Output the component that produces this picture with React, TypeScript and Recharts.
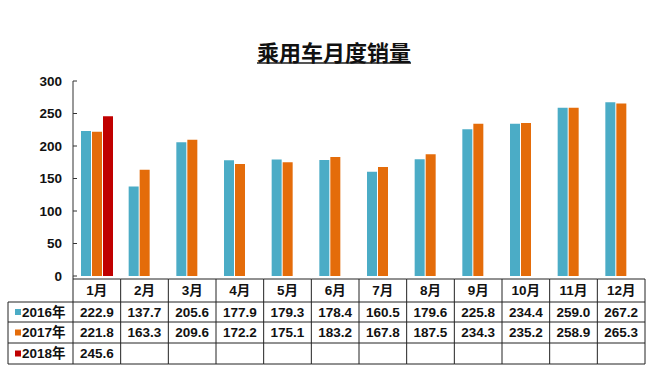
import React from "react";
import { BarChart, Bar, XAxis, YAxis } from "recharts";

const months = ["1月", "2月", "3月", "4月", "5月", "6月", "7月", "8月", "9月", "10月", "11月", "12月"];
const sales2016 = [222.9, 137.7, 205.6, 177.9, 179.3, 178.4, 160.5, 179.6, 225.8, 234.4, 259.0, 267.2];
const sales2017 = [221.8, 163.3, 209.6, 172.2, 175.1, 183.2, 167.8, 187.5, 234.3, 235.2, 258.9, 265.3];
const sales2018: (number | null)[] = [245.6, null, null, null, null, null, null, null, null, null, null, null];
const yTicks = [0, 50, 100, 150, 200, 250, 300];
const seriesNames = ["2016年", "2017年", "2018年"];
const seriesColors = ["#4BACC6", "#E46C0A", "#C00000"];

const data = months.map((m, i) => ({
    month: m,
    y2016: sales2016[i],
    y2017: sales2017[i],
    y2018: sales2018[i],
}));

const W = 660;
const H = 377;
const margin = { top: 81, right: 15, left: 13, bottom: 11 };
const Y_W = 60;
const PLOT_W = W - margin.left - margin.right - Y_W;
const BW = PLOT_W / months.length;
const TABLE_LEFT = 8;
const lineY = [3, 26, 46, 67, 88];
const rows = [sales2016, sales2017, sales2018];
const font = "'Liberation Sans', Arial, 'Noto Sans CJK SC', sans-serif";
const gridColor = "#222";

const TableTick = (props: any) => {
    const { x, y, payload } = props;
    const i = payload.index;
    const l = x - BW / 2;
    const r = x + BW / 2;
    const textProps = { fontFamily: font, fontWeight: 700, fontSize: 13.5, fill: "#111", textAnchor: "middle" as const };
    return (
        <g>
            {lineY.map((dy, k) => (
                <line key={"h" + k} x1={l} x2={r} y1={y + dy} y2={y + dy} stroke={gridColor} strokeWidth={1} />
            ))}
            <line x1={r} x2={r} y1={y + lineY[0]} y2={y + lineY[4]} stroke={gridColor} />
            {i === 0 && (
                <g>
                    <line x1={l} x2={l} y1={y} y2={y + lineY[4]} stroke={gridColor} />
                    <line x1={TABLE_LEFT} x2={TABLE_LEFT} y1={y + lineY[1]} y2={y + lineY[4]} stroke={gridColor} />
                    {lineY.slice(1).map((dy, k) => (
                        <line key={"lh" + k} x1={TABLE_LEFT} x2={l} y1={y + dy} y2={y + dy} stroke={gridColor} />
                    ))}
                    {seriesNames.map((name, k) => {
                        const cy = y + (lineY[k + 1] + lineY[k + 2]) / 2;
                        return (
                            <g key={name}>
                                <rect x={TABLE_LEFT + 7} y={cy - 3} width={6} height={6} fill={seriesColors[k]} />
                                <text x={TABLE_LEFT + 14} y={cy} dy="0.36em" {...textProps} textAnchor="start">
                                    {name}
                                </text>
                            </g>
                        );
                    })}
                </g>
            )}
            <text x={x} y={y + (lineY[0] + lineY[1]) / 2} dy="0.36em" {...textProps}>
                {payload.value}
            </text>
            {rows.map((row, k) => {
                const v = row[i];
                if (v === null || v === undefined) return null;
                return (
                    <text key={k} x={x} y={y + (lineY[k + 1] + lineY[k + 2]) / 2} dy="0.36em" {...textProps}>
                        {v.toFixed(1)}
                    </text>
                );
            })}
        </g>
    );
};

const YTick = (props: any) => {
    const { x, y, payload } = props;
    return (
        <g>
            <line x1={x} x2={x + 4} y1={y} y2={y} stroke="#333" />
            <text x={x - 11} y={y} dy="0.36em" textAnchor="end" fontFamily={font} fontWeight={700} fontSize={13.5} fill="#111">
                {payload.value}
            </text>
        </g>
    );
};

const App = () => {
    return (
        <div style={{ position: "absolute", left: 0, top: 0, width: W, height: H, background: "#fff" }}>
            <div
                style={{
                    position: "absolute",
                    left: 0,
                    top: 40,
                    width: W,
                    textAlign: "center",
                    fontFamily: "'Noto Sans CJK SC', sans-serif",
                    fontWeight: 700,
                    fontSize: 22,
                    lineHeight: "22px",
                    color: "#111",
                    textDecoration: "underline",
                    textDecorationColor: "#555",
                    textDecorationThickness: 2,
                    paddingLeft: 8,
                    boxSizing: "border-box",
                }}
            >
                乘用车月度销量
            </div>
            <BarChart width={W} height={H} data={data} margin={margin} barSize={10} barGap={1}>
                <XAxis
                    dataKey="month"
                    height={90}
                    axisLine={false}
                    tickLine={false}
                    tickSize={0}
                    tickMargin={0}
                    interval={0}
                    tick={<TableTick />}
                />
                <YAxis
                    width={Y_W}
                    domain={[0, 300]}
                    ticks={yTicks}
                    interval={0}
                    axisLine={{ stroke: "#333" }}
                    tickLine={false}
                    tickSize={0}
                    tickMargin={0}
                    tick={<YTick />}
                />
                <Bar dataKey="y2016" name={seriesNames[0]} fill={seriesColors[0]} isAnimationActive={false} />
                <Bar dataKey="y2017" name={seriesNames[1]} fill={seriesColors[1]} isAnimationActive={false} />
                <Bar dataKey="y2018" name={seriesNames[2]} fill={seriesColors[2]} isAnimationActive={false} />
            </BarChart>
        </div>
    );
};

export default App;
